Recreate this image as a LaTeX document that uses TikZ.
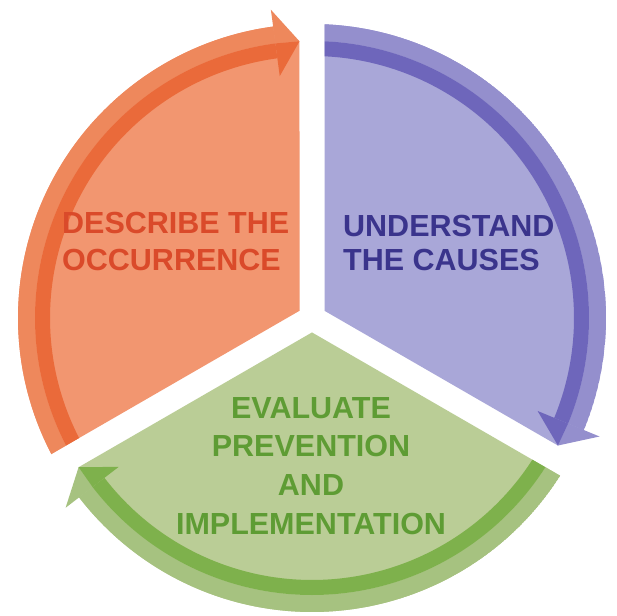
\documentclass[tikz,border=0pt]{standalone}
\usepackage{fontspec}
\setmainfont{Liberation Sans}
\definecolor{orMain}{RGB}{242,150,112}
\definecolor{orLight}{RGB}{238,136,92}
\definecolor{orDark}{RGB}{234,106,58}
\definecolor{orText}{RGB}{218,74,42}
\definecolor{puMain}{RGB}{169,167,216}
\definecolor{puLight}{RGB}{148,143,205}
\definecolor{puDark}{RGB}{110,102,187}
\definecolor{puText}{RGB}{58,52,140}
\definecolor{grMain}{RGB}{186,205,150}
\definecolor{grLight}{RGB}{166,194,128}
\definecolor{grDark}{RGB}{126,177,76}
\definecolor{grText}{RGB}{94,156,52}
% #1 start edge angle, #2 main fill, #3 light band, #4 dark band
\newcommand\mysector[4]{%
  \pgfmathsetmacro\aC{#1-60}%
  \pgfmathsetmacro\aS{#1-2.44}%
  \pgfmathsetmacro\aB{#1-112.4}%
  \pgfmathsetmacro\aT{#1-117.41}%
  \fill[#2] (\aC:14.43) -- (\aS:294) arc[start angle=\aS,end angle=\aB,radius=294] -- (\aT:277) -- cycle;
  \begin{scope}
    \clip (\aC:14.43) -- (\aS:294) arc[start angle=\aS,end angle=\aB,radius=294] -- (\aT:277) -- cycle;
    \fill[#3] (#1:294) arc[start angle=#1,end angle=\aB,radius=294] -- (\aB:277) arc[start angle=\aB,end angle=#1,radius=277] -- cycle;
    \fill[#4] (#1:277) arc[start angle=#1,end angle=\aB,radius=277] -- (\aB:262) arc[start angle=\aB,end angle=#1,radius=262] -- cycle;
  \end{scope}
  \fill[#3] (\aT:277) -- (\aB:311) -- (\aB:277) -- cycle;
  \fill[#4] (\aT:277) -- (\aB:244) -- (\aB:277) -- cycle;
}
\begin{document}
\begin{tikzpicture}[x=1pt,y=1pt,
  lbl/.style={inner sep=0pt, font=\bfseries\fontsize{30.5}{37}\selectfont}]
\useasboundingbox (0,0) rectangle (617,615);
\fill[white] (0,0) rectangle (617,615);
\coordinate (C) at (312,297);
\begin{scope}[shift={(C)}]
  \mysector{210}{orMain}{orLight}{orDark}
  \mysector{90}{puMain}{puLight}{puDark}
  \mysector{330}{grMain}{grLight}{grDark}
\end{scope}
\node[lbl, text=orText, align=left, anchor=west,
  font=\bfseries\fontsize{30.5}{37}\selectfont] (describe) at (62,373) {DESCRIBE THE\\OCCURRENCE};
\node[lbl, text=puText, align=left, anchor=west,
  font=\bfseries\fontsize{30.5}{34}\selectfont] (understand) at (343,372) {UNDERSTAND\\THE CAUSES};
\node[lbl, text=grText, align=center,
  font=\bfseries\fontsize{30.5}{38.7}\selectfont] (evaluate) at (311,149) {EVALUATE\\PREVENTION\\AND\\IMPLEMENTATION};
\end{tikzpicture}
\end{document}
